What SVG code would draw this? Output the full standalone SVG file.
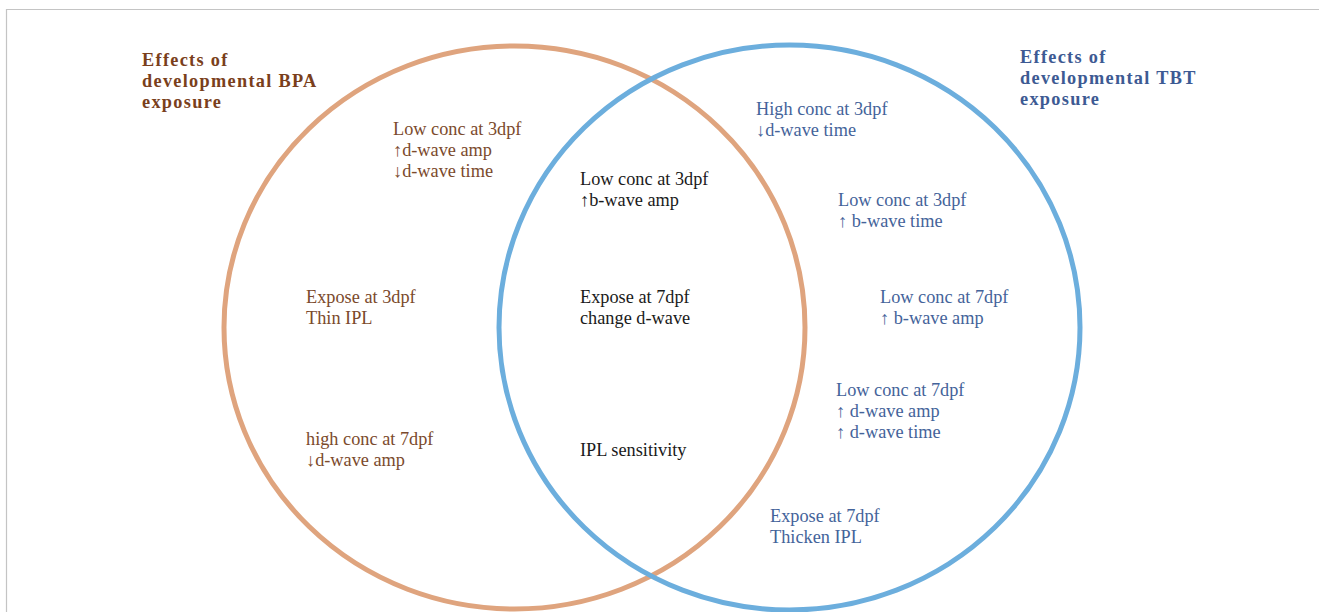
<svg xmlns="http://www.w3.org/2000/svg" width="1319" height="612" viewBox="0 0 1319 612">
<style>
text{font-family:"Liberation Serif","Times New Roman",serif;font-size:18.3px}
.br{fill:#7B4A2C}
.bl{fill:#44639A}
.bk{fill:#1a1a1a}
.tb{font-weight:bold;letter-spacing:1.3px}
.tbr{fill:#7A3F1C}
.tbl{fill:#3D5A93}
.ring{fill:none;stroke-width:5}
</style>
<rect x="0" y="0" width="1319" height="612" fill="#ffffff"/>
<path d="M6.5 612 V9.5 H1319" fill="none" stroke="#c4c4c4" stroke-width="1.2"/>
<g id="connectors"></g>
<g id="bpa-circle"><ellipse class="ring" cx="514.5" cy="327.5" rx="290.5" ry="281.5" stroke="#DFA47E"/></g>
<g id="tbt-circle"><ellipse class="ring" cx="789.5" cy="327.5" rx="290.5" ry="282.5" stroke="#6CAEDD"/></g>
<g id="bpa-title" class="tb tbr">
<text x="142" y="66">Effects of</text>
<text x="142" y="87">developmental BPA</text>
<text x="142" y="108">exposure</text>
</g>
<g id="tbt-title" class="tb tbl">
<text x="1020" y="63">Effects of</text>
<text x="1020" y="84">developmental TBT</text>
<text x="1020" y="105">exposure</text>
</g>
<g id="bpa-1" class="br">
<text x="393" y="135">Low conc at 3dpf</text>
<text x="393" y="156">↑d-wave amp</text>
<text x="393" y="177">↓d-wave time</text>
</g>
<g id="bpa-2" class="br">
<text x="306" y="303">Expose at 3dpf</text>
<text x="306" y="324">Thin IPL</text>
</g>
<g id="bpa-3" class="br">
<text x="306" y="445">high conc at 7dpf</text>
<text x="306" y="466">↓d-wave amp</text>
</g>
<g id="both-1" class="bk">
<text x="580" y="185">Low conc at 3dpf</text>
<text x="580" y="206">↑b-wave amp</text>
</g>
<g id="both-2" class="bk">
<text x="580" y="303">Expose at 7dpf</text>
<text x="580" y="324">change d-wave</text>
</g>
<g id="both-3" class="bk">
<text x="580" y="456">IPL sensitivity</text>
</g>
<g id="tbt-1" class="bl">
<text x="756" y="115">High conc at 3dpf</text>
<text x="756" y="136">↓d-wave time</text>
</g>
<g id="tbt-2" class="bl">
<text x="838" y="206">Low conc at 3dpf</text>
<text x="838" y="227">↑ b-wave time</text>
</g>
<g id="tbt-3" class="bl">
<text x="880" y="303">Low conc at 7dpf</text>
<text x="880" y="324">↑ b-wave amp</text>
</g>
<g id="tbt-4" class="bl">
<text x="836" y="396">Low conc at 7dpf</text>
<text x="836" y="417">↑ d-wave amp</text>
<text x="836" y="438">↑ d-wave time</text>
</g>
<g id="tbt-5" class="bl">
<text x="770" y="522">Expose at 7dpf</text>
<text x="770" y="543">Thicken IPL</text>
</g>
</svg>
